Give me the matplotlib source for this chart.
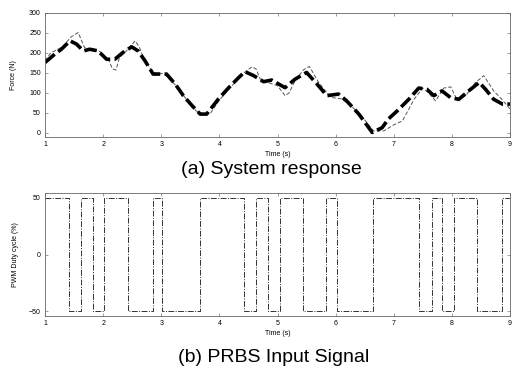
import matplotlib.pyplot as plt

plt.rcParams['font.family'] = ['Liberation Sans', 'DejaVu Sans']

# force response (thick dashed = model, thin dashed = measured)
t_model = [1.0, 1.17, 1.28, 1.43, 1.54, 1.66, 1.77, 1.91, 2.06, 2.2, 2.34, 2.49, 2.6, 2.72,
           2.86, 3.09, 3.24, 3.38, 3.53, 3.67, 3.78, 3.98, 4.16, 4.33, 4.44, 4.59, 4.76,
           4.9, 5.02, 5.13, 5.3, 5.5, 5.68, 5.85, 6.05, 6.19, 6.4, 6.63, 6.8, 6.91, 7.06,
           7.26, 7.43, 7.57, 7.69, 7.83, 7.98, 8.12, 8.29, 8.47, 8.58, 8.72, 8.87, 9.0]
f_model = [176, 197, 209, 230, 222, 205, 209, 205, 184, 184, 201, 215, 205, 180,
           147, 147, 122, 93, 68, 47, 47, 84, 113, 138, 153, 143, 128,
           132, 122, 113, 134, 151, 122, 93, 97, 80, 47, 1, 13, 35, 55,
           84, 112, 109, 93, 105, 88, 84, 105, 126, 109, 84, 72, 72]

t_meas = [1.0, 1.1, 1.3, 1.45, 1.57, 1.68, 1.8, 1.95, 2.1, 2.16, 2.22, 2.28, 2.4, 2.55,
          2.62, 2.7, 2.86, 3.05, 3.24, 3.4, 3.6, 3.75, 3.85, 4.0, 4.2, 4.4, 4.56, 4.63,
          4.7, 4.85, 5.0, 5.13, 5.2, 5.3, 5.45, 5.55, 5.7, 5.85, 5.95, 6.1, 6.25, 6.45,
          6.65, 6.83, 7.0, 7.15, 7.35, 7.5, 7.6, 7.72, 7.86, 7.98, 8.1, 8.25, 8.4, 8.55,
          8.63, 8.72, 8.86, 9.0]
f_meas = [180, 200, 215, 240, 251, 213, 210, 203, 180, 160, 157, 188, 205, 230,
          215, 185, 150, 148, 120, 90, 55, 45, 50, 82, 115, 148, 165, 160,
          135, 125, 118, 93, 100, 130, 158, 166, 128, 100, 88, 85, 70, 42,
          5, 5, 20, 30, 84, 112, 100, 80, 112, 115, 80, 95, 125, 143,
          125, 105, 84, 60]

# PRBS input: switching times and duty cycle level
prbs_t = [1.0, 1.41, 1.62, 1.82, 2.02, 2.42, 2.85, 3.02, 3.66, 4.43, 4.63, 4.83, 5.04,
          5.44, 5.84, 6.02, 6.65, 7.43, 7.66, 7.83, 8.04, 8.43, 8.86, 9.0]
prbs_level = [50, -50, 50, -50, 50, -50, 50, -50, 50, -50, 50, -50, 50,
              -50, 50, -50, 50, -50, 50, -50, 50, -50, 50, 50]

fig = plt.figure(figsize=(5.12, 3.67), dpi=100)
ax1 = fig.add_axes([0.088, 0.627, 0.908, 0.338])
ax2 = fig.add_axes([0.088, 0.139, 0.908, 0.335])

ax1.plot(t_meas, f_meas, color='#555555', lw=0.7, ls=(0, (4, 2)))
ax1.plot(t_model, f_model, color='black', lw=2.6, ls=(0, (3.5, 1.2)))
ax1.set_xlim(1, 9)
ax1.set_ylim(-10, 300)
ax1.set_yticks([0, 50, 100, 150, 200, 250, 300])
ax1.set_ylabel('Force (N)', fontsize=5, labelpad=9)
ax1.set_xlabel('Time (s)', fontsize=5, labelpad=2)

ax2.step(prbs_t, prbs_level, where='post', color='#333333', lw=0.7, ls=(0, (6, 1.5, 1, 1.5)))
ax2.set_xlim(1, 9)
ax2.set_ylim(-54, 54)
ax2.set_yticks([-50, 0, 50])
ax2.set_ylabel('PWM Duty cycle (%)', fontsize=5, labelpad=7)
ax2.set_xlabel('Time (s)', fontsize=5, labelpad=2)

for ax in (ax1, ax2):
    ax.set_xticks(range(1, 10))
    ax.tick_params(direction='in', labelsize=5, length=2, width=0.5, pad=3,
                   top=True, right=True, color='#777777')
    for s in ax.spines.values():
        s.set_linewidth(0.6)
        s.set_linestyle((0, (3, 1)))
        s.set_color('#666666')

fig.text(0.53, 0.537, '(a) System response', ha='center', va='center', fontsize=14)
fig.text(0.535, 0.027, '(b) PRBS Input Signal', ha='center', va='center', fontsize=14)

fig.savefig('out.png', dpi=100)
